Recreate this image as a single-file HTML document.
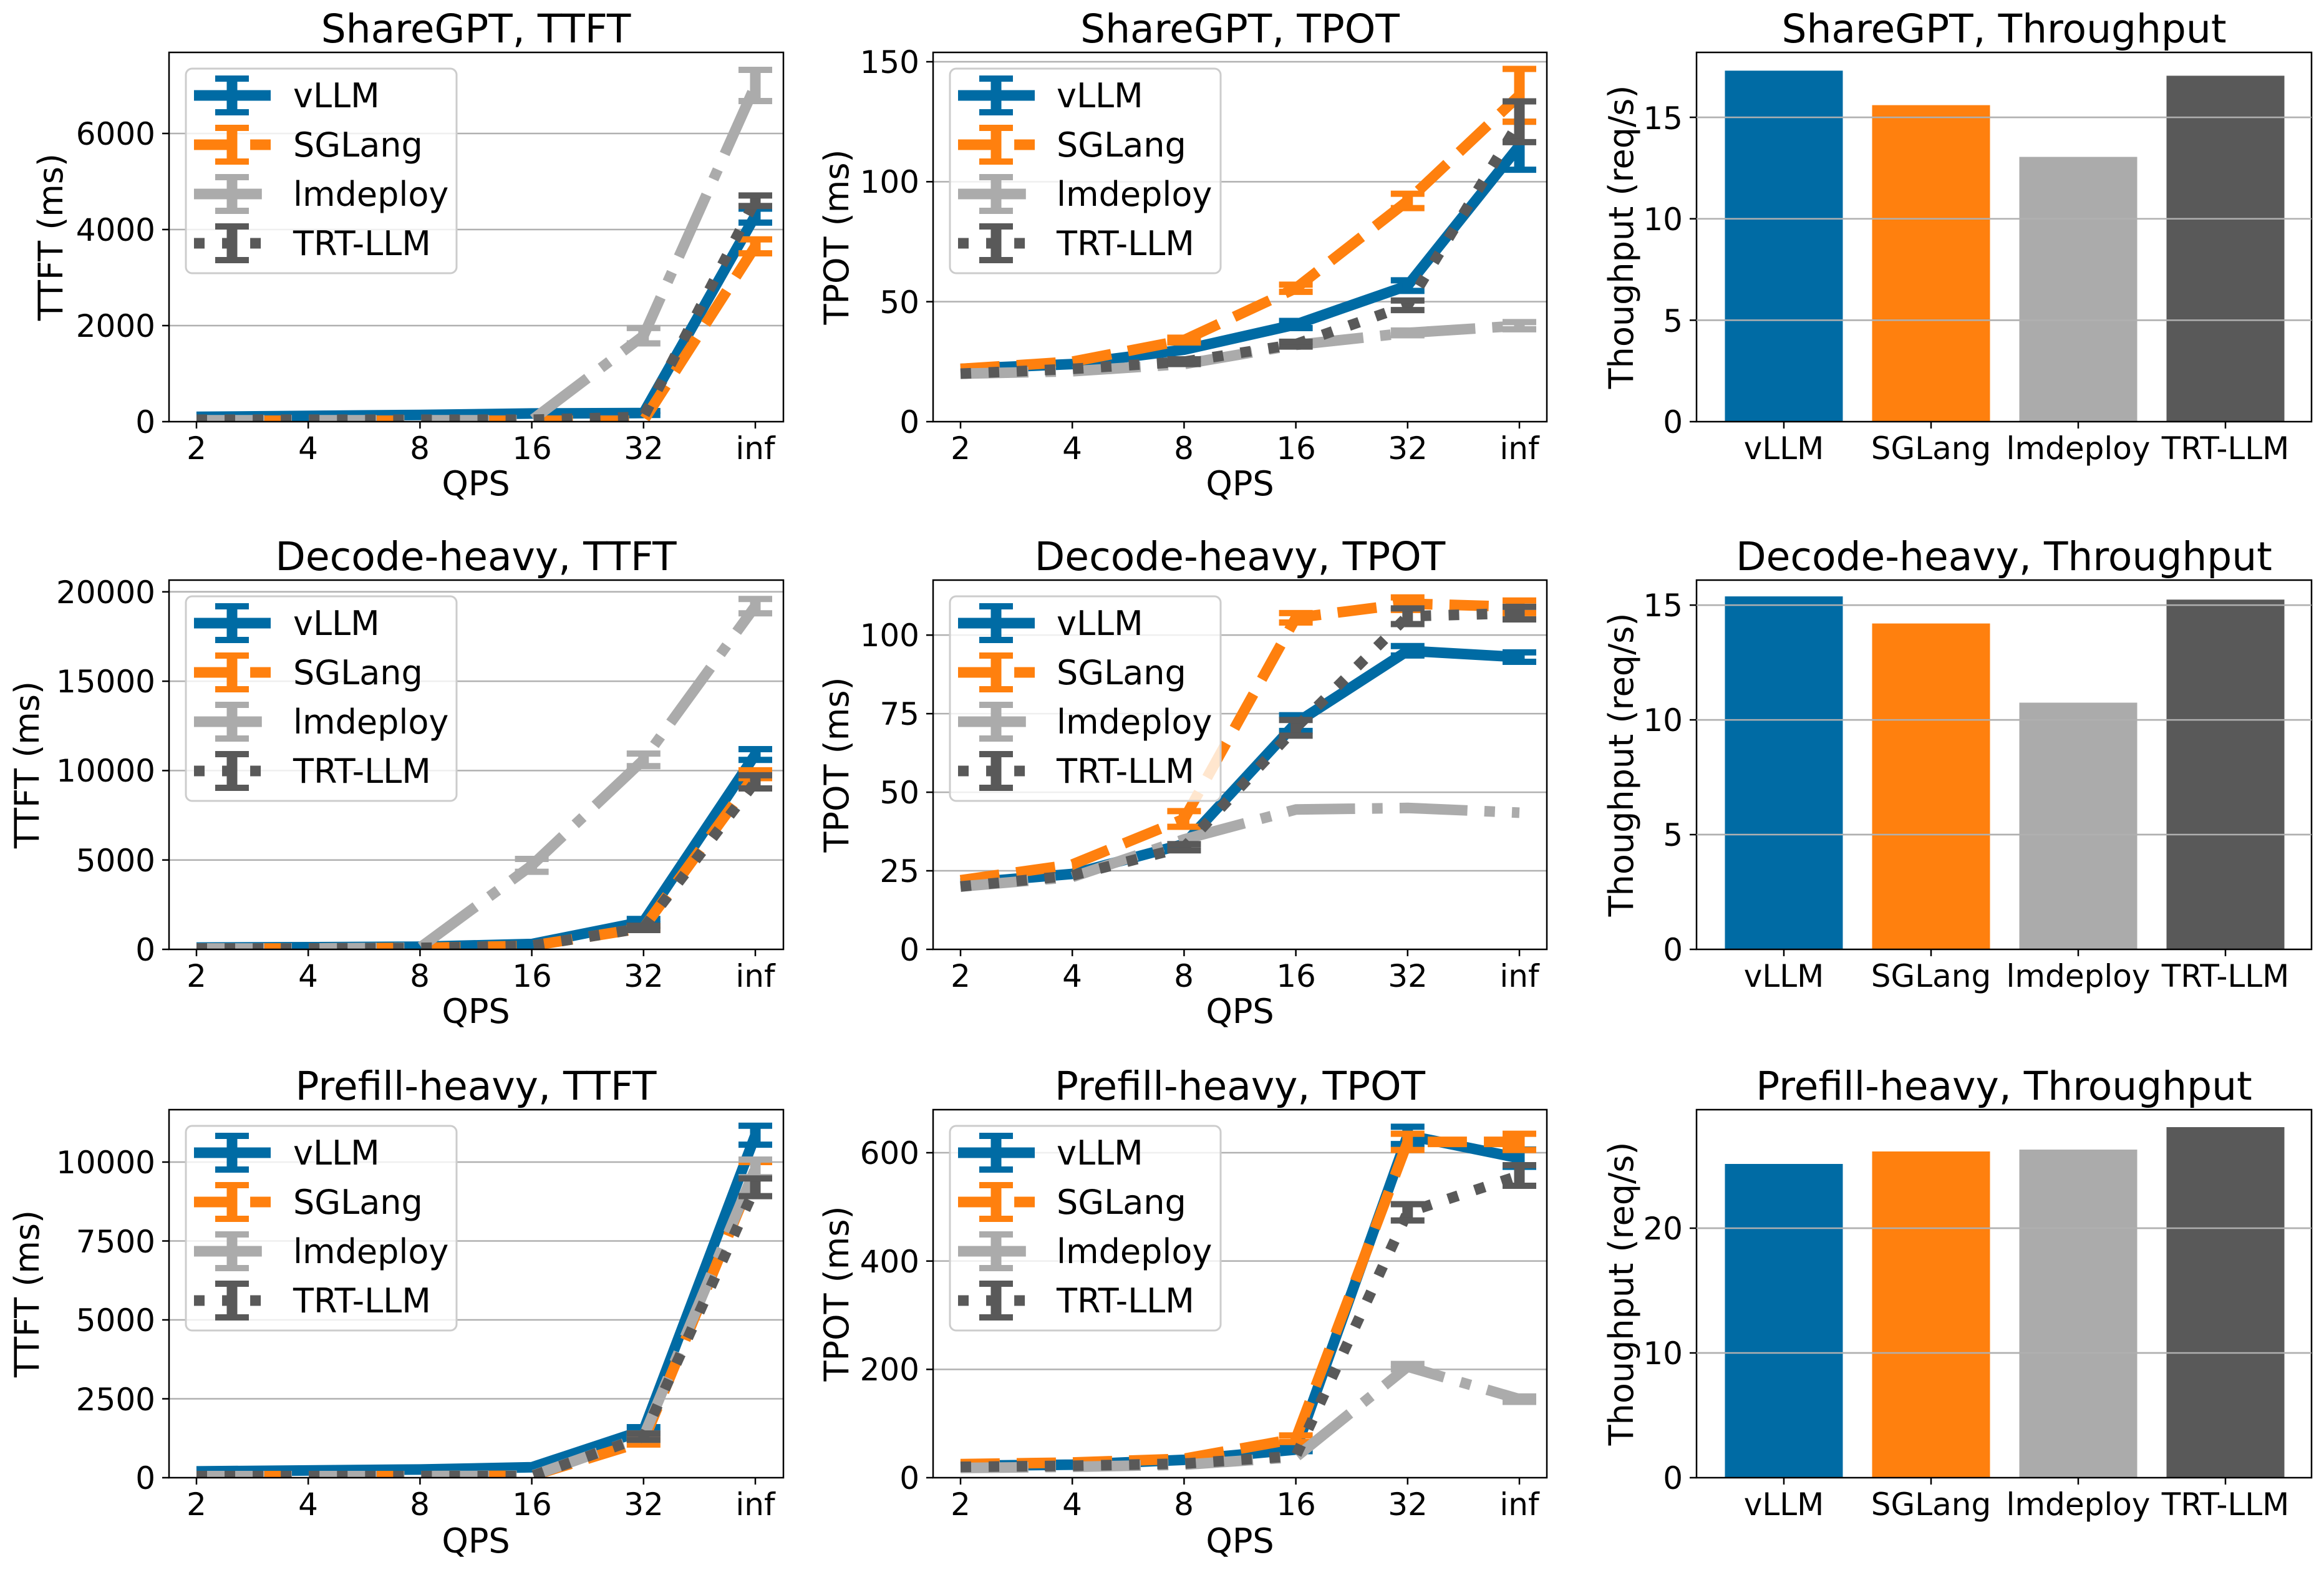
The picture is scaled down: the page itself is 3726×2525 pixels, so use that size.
<!DOCTYPE html>
<html><head><meta charset="utf-8"><style>
html,body{margin:0;padding:0;background:#fff;}
svg{display:block;}
text{font-family:"DejaVu Sans","Liberation Sans",sans-serif;fill:#000;}
.t{font-size:63px;text-anchor:middle;}
.xk{font-size:50px;text-anchor:middle;}
.yk{font-size:50px;text-anchor:end;}
.lb{font-size:54px;text-anchor:middle;}
.lg{font-size:54px;}
</style></head><body>
<svg id="s" xmlns="http://www.w3.org/2000/svg" width="3726" height="2525" viewBox="0 0 3726 2525">
<rect width="3726" height="2525" fill="#fff"/>
<g id="geo"></g>
<g id="txt">
<text class="t" x="763" y="68">ShareGPT, TTFT</text>
<text class="t" x="1988" y="68">ShareGPT, TPOT</text>
<text class="t" x="3213" y="68">ShareGPT, Throughput</text>
<text class="t" x="763" y="914">Decode-heavy, TTFT</text>
<text class="t" x="1988" y="914">Decode-heavy, TPOT</text>
<text class="t" x="3213" y="914">Decode-heavy, Throughput</text>
<text class="t" x="763" y="1763">Prefill-heavy, TTFT</text>
<text class="t" x="1988" y="1763">Prefill-heavy, TPOT</text>
<text class="t" x="3213" y="1763">Prefill-heavy, Throughput</text>

<g>
<text class="xk" x="315" y="736">2</text><text class="xk" x="494" y="736">4</text><text class="xk" x="673" y="736">8</text><text class="xk" x="853" y="736">16</text><text class="xk" x="1032" y="736">32</text><text class="xk" x="1211" y="736">inf</text>
<text class="xk" x="1540" y="736">2</text><text class="xk" x="1719" y="736">4</text><text class="xk" x="1898" y="736">8</text><text class="xk" x="2078" y="736">16</text><text class="xk" x="2257" y="736">32</text><text class="xk" x="2436" y="736">inf</text>
<text class="xk" x="2860" y="736">vLLM</text><text class="xk" x="3096" y="736">SGLang</text><text class="xk" x="3332" y="736">lmdeploy</text><text class="xk" x="3568" y="736">TRT-LLM</text>

<text class="xk" x="315" y="1582">2</text><text class="xk" x="494" y="1582">4</text><text class="xk" x="673" y="1582">8</text><text class="xk" x="853" y="1582">16</text><text class="xk" x="1032" y="1582">32</text><text class="xk" x="1211" y="1582">inf</text>
<text class="xk" x="1540" y="1582">2</text><text class="xk" x="1719" y="1582">4</text><text class="xk" x="1898" y="1582">8</text><text class="xk" x="2078" y="1582">16</text><text class="xk" x="2257" y="1582">32</text><text class="xk" x="2436" y="1582">inf</text>
<text class="xk" x="2860" y="1582">vLLM</text><text class="xk" x="3096" y="1582">SGLang</text><text class="xk" x="3332" y="1582">lmdeploy</text><text class="xk" x="3568" y="1582">TRT-LLM</text>

<text class="xk" x="315" y="2429">2</text><text class="xk" x="494" y="2429">4</text><text class="xk" x="673" y="2429">8</text><text class="xk" x="853" y="2429">16</text><text class="xk" x="1032" y="2429">32</text><text class="xk" x="1211" y="2429">inf</text>
<text class="xk" x="1540" y="2429">2</text><text class="xk" x="1719" y="2429">4</text><text class="xk" x="1898" y="2429">8</text><text class="xk" x="2078" y="2429">16</text><text class="xk" x="2257" y="2429">32</text><text class="xk" x="2436" y="2429">inf</text>
<text class="xk" x="2860" y="2429">vLLM</text><text class="xk" x="3096" y="2429">SGLang</text><text class="xk" x="3332" y="2429">lmdeploy</text><text class="xk" x="3568" y="2429">TRT-LLM</text>
</g>
<text class="lb" x="763" y="794">QPS</text><text class="lb" x="1988" y="794">QPS</text>
<text class="lb" x="763" y="1640">QPS</text><text class="lb" x="1988" y="1640">QPS</text>
<text class="lb" x="763" y="2489">QPS</text><text class="lb" x="1988" y="2489">QPS</text>

<text class="yk" x="249" y="694">0</text><text class="yk" x="249" y="540">2000</text><text class="yk" x="249" y="386">4000</text><text class="yk" x="249" y="232">6000</text>
<text class="yk" x="1474" y="694">0</text><text class="yk" x="1474" y="502">50</text><text class="yk" x="1474" y="309">100</text><text class="yk" x="1474" y="117">150</text>
<text class="yk" x="2698" y="694">0</text><text class="yk" x="2698" y="532">5</text><text class="yk" x="2698" y="369">10</text><text class="yk" x="2698" y="207">15</text>

<text class="yk" x="249" y="1540">0</text><text class="yk" x="249" y="1397">5000</text><text class="yk" x="249" y="1253">10000</text><text class="yk" x="249" y="1110">15000</text><text class="yk" x="249" y="967">20000</text>
<text class="yk" x="1474" y="1540">0</text><text class="yk" x="1474" y="1414">25</text><text class="yk" x="1474" y="1288">50</text><text class="yk" x="1474" y="1162">75</text><text class="yk" x="1474" y="1036">100</text>
<text class="yk" x="2698" y="1540">0</text><text class="yk" x="2698" y="1356">5</text><text class="yk" x="2698" y="1172">10</text><text class="yk" x="2698" y="988">15</text>

<text class="yk" x="249" y="2387">0</text><text class="yk" x="249" y="2261">2500</text><text class="yk" x="249" y="2134">5000</text><text class="yk" x="249" y="2008">7500</text><text class="yk" x="249" y="1881">10000</text>
<text class="yk" x="1474" y="2387">0</text><text class="yk" x="1474" y="2213">200</text><text class="yk" x="1474" y="2040">400</text><text class="yk" x="1474" y="1866">600</text>
<text class="yk" x="2698" y="2387">0</text><text class="yk" x="2698" y="2187">10</text><text class="yk" x="2698" y="1987">20</text>

<text class="lb" transform="translate(100,380) rotate(-90)">TTFT (ms)</text>
<text class="lb" transform="translate(1360,380) rotate(-90)">TPOT (ms)</text>
<text class="lb" transform="translate(2618,380) rotate(-90)">Thoughput (req/s)</text>
<text class="lb" transform="translate(62,1226) rotate(-90)">TTFT (ms)</text>
<text class="lb" transform="translate(1360,1226) rotate(-90)">TPOT (ms)</text>
<text class="lb" transform="translate(2618,1226) rotate(-90)">Thoughput (req/s)</text>
<text class="lb" transform="translate(62,2074) rotate(-90)">TTFT (ms)</text>
<text class="lb" transform="translate(1360,2074) rotate(-90)">TPOT (ms)</text>
<text class="lb" transform="translate(2618,2074) rotate(-90)">Thoughput (req/s)</text>
</g>
<g id="leg"></g>
<g id="legtxt">
<text class="lg" x="470" y="172">vLLM</text><text class="lg" x="470" y="251">SGLang</text><text class="lg" x="470" y="330">lmdeploy</text><text class="lg" x="470" y="409">TRT-LLM</text>
<text class="lg" x="1694" y="172">vLLM</text><text class="lg" x="1694" y="251">SGLang</text><text class="lg" x="1694" y="330">lmdeploy</text><text class="lg" x="1694" y="409">TRT-LLM</text>
<text class="lg" x="470" y="1018">vLLM</text><text class="lg" x="470" y="1097">SGLang</text><text class="lg" x="470" y="1176">lmdeploy</text><text class="lg" x="470" y="1255">TRT-LLM</text>
<text class="lg" x="1694" y="1018">vLLM</text><text class="lg" x="1694" y="1097">SGLang</text><text class="lg" x="1694" y="1176">lmdeploy</text><text class="lg" x="1694" y="1255">TRT-LLM</text>
<text class="lg" x="470" y="1867">vLLM</text><text class="lg" x="470" y="1946">SGLang</text><text class="lg" x="470" y="2025">lmdeploy</text><text class="lg" x="470" y="2104">TRT-LLM</text>
<text class="lg" x="1694" y="1867">vLLM</text><text class="lg" x="1694" y="1946">SGLang</text><text class="lg" x="1694" y="2025">lmdeploy</text><text class="lg" x="1694" y="2104">TRT-LLM</text>
</g>
</svg>
<script>
(function(){
var NS="http://www.w3.org/2000/svg";
var geo=document.getElementById('geo'), leg=document.getElementById('leg');
function el(p,n,a){var e=document.createElementNS(NS,n);for(var k in a)e.setAttribute(k,a[k]);p.appendChild(e);return e;}
var C=['#006BA4','#FF800E','#ABABAB','#595959'];
var LW=17;
var DA=['none',(3.7*LW)+' '+(1.6*LW),(6.4*LW)+' '+(1.6*LW)+' '+(1*LW)+' '+(1.6*LW),(1*LW)+' '+(1.65*LW)];
var rows=[[84,676],[930,1522],[1779,2369]];
var cols=[[271,1256,315],[1496,2480,1540],[2720,3706]];
var ymaxs=[[7688,153.9,18.2],[20656,117.5,16.09],[11660,679.5,29.5]];
var grids=[[[2000,4000,6000],[50,100,150],[5,10,15]],[[5000,10000,15000,20000],[25,50,75,100],[5,10,15]],[[2500,5000,7500,10000],[200,400,600],[10,20]]];
var D=[
 [
  {v:[[100,120,140,170,180,4290],[20,20,20,20,20,3650],[30,30,30,30,1790,7000],[40,40,40,40,100,4600]],
   e:[[0,0,0,0,40,145],[0,0,0,0,0,145],[0,0,0,0,160,325],[0,0,0,0,0,110]]},
  {v:[[22,24,30,40.5,56.7,115],[22,25,34,55.6,92,136],[20,21,24,32,37,40],[20,22,25,32.3,48.5,125]],
   e:[[0,0,0,1.5,2.2,10],[0,0,1,1.5,3,11],[0,0,0,0,1,1.5],[0,0,1,1,2,8.5]]},
  {b:[17.3,15.6,13.05,17.05]}
 ],
 [
  {v:[[100,120,150,300,1550,10900],[50,50,80,200,1200,9800],[50,50,100,4700,10600,19200],[50,50,80,200,1200,9370]],
   e:[[0,0,0,0,150,300],[0,0,0,0,100,220],[0,0,0,360,350,400],[0,0,0,0,120,370]]},
  {v:[[21,24,33.5,72,95,93],[22,27,41.5,105.5,110,109],[20,23,35,44.5,45,43.5],[20,23.5,32.5,70.5,106,107]],
   e:[[0,0,0,2.5,1.5,1.5],[0,0,2.5,1.5,2,2],[0,0,0,0,0,0],[0,0,1,2.5,2.5,2]]},
  {b:[15.38,14.2,10.75,15.24]}
 ],
 [
  {v:[[200,230,260,330,1500,10850],[50,50,50,60,1150,9750],[50,50,50,60,1300,9800],[50,50,50,50,1300,9200]],
   e:[[0,0,0,0,100,300],[0,0,0,0,100,250],[0,0,0,0,100,280],[0,0,0,0,100,280]]},
  {v:[[22,24,33,52,632,590],[25,28,35,72,620,620],[18,20,24,38,205,145],[20,22,26,40,490,558]],
   e:[[0,0,0,3,16,16],[0,0,0,6,15,15],[0,0,0,0,5,5],[0,0,0,0,15,19]]},
  {b:[25.15,26.15,26.3,28.1]}
 ]
];
var cid=0;
for(var r=0;r<3;r++){
 var T=rows[r][0],B=rows[r][1];
 for(var c=0;c<3;c++){
  var L=cols[c][0],R=cols[c][1],ym=ymaxs[r][c];
  var Y=function(v){return B-v*(B-T)/ym;};
  grids[r][c].forEach(function(g){var y=Y(g);el(geo,'line',{x1:L,x2:R,y1:y,y2:y,stroke:'#b0b0b0','stroke-width':2.5});});
  var id='cp'+(cid++);
  var cp=el(geo,'clipPath',{id:id});el(cp,'rect',{x:L,y:T,width:R-L,height:B-T});
  var g=el(geo,'g',{'clip-path':'url(#'+id+')'});
  var d=D[r][c];
  if(d.b){
   for(var i=0;i<4;i++){var cx=2860+236*i;el(g,'rect',{x:cx-94.5,y:Y(d.b[i]),width:189,height:B-Y(d.b[i]),fill:C[i]});}
  } else {
   var x0=cols[c][2];
   for(var s=0;s<4;s++){
    var pts=d.v[s].map(function(v,i){return (x0+179.2*i)+','+Y(v);}).join(' ');
    var a={points:pts,fill:'none',stroke:C[s],'stroke-width':LW,'stroke-linejoin':'round'};
    if(DA[s]!=='none')a['stroke-dasharray']=DA[s];
    el(g,'polyline',a);
    for(var i=0;i<6;i++){var e=d.e[s][i];if(!e)continue;var x=x0+179.2*i;
     el(g,'line',{x1:x,x2:x,y1:Y(d.v[s][i]-e),y2:Y(d.v[s][i]+e),stroke:C[s],'stroke-width':LW});
     el(g,'line',{x1:x-27,x2:x+27,y1:Y(d.v[s][i]-e),y2:Y(d.v[s][i]-e),stroke:C[s],'stroke-width':10});
     el(g,'line',{x1:x-27,x2:x+27,y1:Y(d.v[s][i]+e),y2:Y(d.v[s][i]+e),stroke:C[s],'stroke-width':10});
    }
   }
   var lx=L+27,ly=T+26;
   el(leg,'rect',{x:lx,y:ly,width:434,height:328,rx:10,fill:'#fff','fill-opacity':0.8,stroke:'#cccccc','stroke-width':3});
   for(var s=0;s<4;s++){var cy=T+69+79*s;
    var a={x1:lx+13,x2:lx+136,y1:cy,y2:cy,stroke:C[s],'stroke-width':LW};
    if(DA[s]!=='none')a['stroke-dasharray']=DA[s];
    el(leg,'line',a);
    el(leg,'line',{x1:lx+74,x2:lx+74,y1:cy-27,y2:cy+27,stroke:C[s],'stroke-width':LW});
    el(leg,'line',{x1:lx+47,x2:lx+101,y1:cy-27,y2:cy-27,stroke:C[s],'stroke-width':10});
    el(leg,'line',{x1:lx+47,x2:lx+101,y1:cy+27,y2:cy+27,stroke:C[s],'stroke-width':10});
   }
  }
  el(geo,'rect',{x:L,y:T,width:R-L,height:B-T,fill:'none',stroke:'#000','stroke-width':2.5});
  grids[r][c].concat([0]).forEach(function(v){var y=Y(v);el(geo,'line',{x1:L-11,x2:L,y1:y,y2:y,stroke:'#000','stroke-width':2.5});});
  if(c<2){for(var i=0;i<6;i++){var x=cols[c][2]+179.2*i;el(geo,'line',{x1:x,x2:x,y1:B,y2:B+11,stroke:'#000','stroke-width':2.5});}}
  else{for(var i=0;i<4;i++){var x=2860+236*i;el(geo,'line',{x1:x,x2:x,y1:B,y2:B+11,stroke:'#000','stroke-width':2.5});}}
 }
}
for(var r=0;r<3;r++){var T=rows[r][0],B=rows[r][1],ym=ymaxs[r][2];
 grids[r][2].forEach(function(v){var y=B-v*(B-T)/ym;el(geo,'line',{x1:2720,x2:3706,y1:y,y2:y,stroke:'#b0b0b0','stroke-width':2.5});});}
})();
</script>
</body></html>
